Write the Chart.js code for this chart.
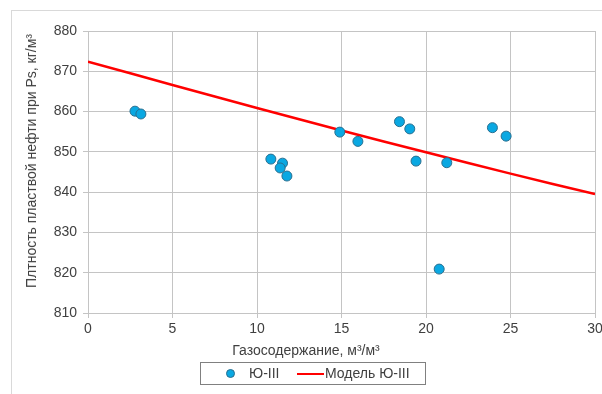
<!DOCTYPE html>
<html>
<head>
<meta charset="utf-8">
<script src="https://cdn.jsdelivr.net/npm/chart.js@4/dist/chart.umd.min.js"></script>
<style>
  html, body { margin: 0; padding: 0; background: #fff; }
  body { width: 602px; height: 394px; position: relative; overflow: hidden; font-family: 'Liberation Sans', Arial, sans-serif; color: #404040; }
  #frame { position: absolute; left: 11px; top: 10px; width: 700px; height: 500px; border: 1px solid #d9d9d9; }
  #wrap { position: absolute; left: 0; top: 0; width: 602px; height: 394px; }
  #ytitle { position: absolute; left: 31px; top: 161px; transform: translate(-50%, -50%) rotate(-90deg); white-space: nowrap; font-size: 14px; }
  #xtitle { position: absolute; left: 306px; top: 350px; transform: translate(-50%, -50%); white-space: nowrap; font-size: 14px; }
  #legend { position: absolute; left: 200px; top: 362px; width: 224px; height: 21px; border: 1px solid #808080; font-size: 14px; background: #fff; }
</style>
</head>
<body>
<div id="frame"></div>
<div id="wrap"><canvas id="c" width="602" height="394"></canvas></div>
<div id="ytitle"></div>
<div id="xtitle"></div>
<div id="legend">
  <span style="position:absolute;left:25px;top:6px;width:9px;height:9px;border-radius:50%;background:#0aa8e2;border:1px solid #2a6f8f;box-sizing:border-box;"></span>
  <span id="leg1" style="position:absolute;left:48px;top:2px;"></span>
  <span style="position:absolute;left:96px;top:10px;width:27px;height:2px;background:#ff0000;"></span>
  <span id="leg2" style="position:absolute;left:124px;top:2px;"></span>
</div>
<script>
const seriesNames = ['Ю-III', 'Модель Ю-III'];
const xTitle = 'Газосодержание, м³/м³';
const yTitle = 'Плтность пластвой нефти при Ps, кг/м³';

const gasX = [2.78, 3.13, 10.82, 11.51, 11.37, 11.77, 14.90, 15.97, 18.43, 19.04, 19.41, 21.23, 23.93, 24.74, 20.78];
const densY = [860.1, 859.4, 848.2, 847.2, 846.0, 844.0, 854.9, 852.6, 857.5, 855.7, 847.7, 847.3, 856.0, 853.9, 820.9];

const modelX = [0, 5, 10, 15, 20, 25, 30];
const modelY = [872.4, 866.6, 860.9, 855.3, 849.9, 844.6, 839.5];

const xTicks = [0, 5, 10, 15, 20, 25, 30];
const yTicks = [810, 820, 830, 840, 850, 860, 870, 880];

document.getElementById('ytitle').textContent = yTitle;
document.getElementById('xtitle').textContent = xTitle;
document.getElementById('leg1').textContent = seriesNames[0];
document.getElementById('leg2').textContent = seriesNames[1];

const pts = gasX.map((x, i) => ({ x: x, y: densY[i] }));
const model = modelX.map((x, i) => ({ x: x, y: modelY[i] }));

const gridColor = '#c4c4c4';
const font = { family: "'Liberation Sans', Arial, sans-serif", size: 14 };

new Chart(document.getElementById('c'), {
  type: 'scatter',
  data: {
    datasets: [
      {
        label: seriesNames[1],
        data: model,
        showLine: true,
        borderColor: '#ff0000',
        borderWidth: 2.5,
        pointRadius: 0,
        tension: 0.4,
        order: 2
      },
      {
        label: seriesNames[0],
        data: pts,
        backgroundColor: '#0aa8e2',
        borderColor: '#2a6f8f',
        borderWidth: 1,
        pointRadius: 5,
        order: 1
      }
    ]
  },
  options: {
    responsive: false,
    animation: false,
    layout: { padding: { top: 31, right: 7, bottom: 51, left: 0 } },
    plugins: { legend: { display: false }, tooltip: { enabled: false } },
    scales: {
      x: {
        type: 'linear',
        min: 0, max: 30,
        afterBuildTicks: (s) => { s.ticks = xTicks.map(v => ({ value: v })); },
        afterFit: (s) => { s.height = 30; s.paddingLeft = 0; s.paddingRight = 0; },
        ticks: { color: '#404040', font: font, padding: 3, maxRotation: 0 },
        grid: { color: gridColor, lineWidth: 1, tickLength: 5 },
        border: { color: gridColor }
      },
      y: {
        type: 'linear',
        min: 810, max: 880,
        afterBuildTicks: (s) => { s.ticks = yTicks.map(v => ({ value: v })); },
        afterFit: (s) => { s.width = 88; s.paddingTop = 0; s.paddingBottom = 0; },
        ticks: { color: '#404040', font: font, padding: 6 },
        grid: { color: gridColor, lineWidth: 1, tickLength: 5 },
        border: { color: gridColor }
      }
    }
  }
});
</script>
</body>
</html>
